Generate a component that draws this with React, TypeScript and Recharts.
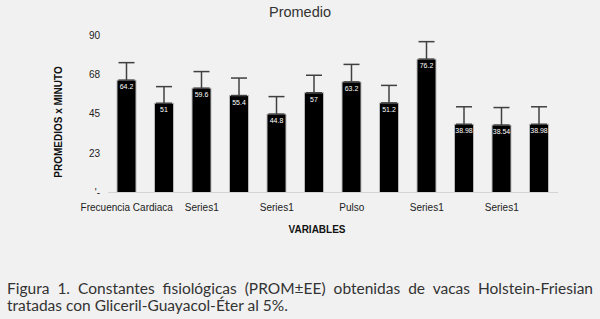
import React from 'react';
import { BarChart, Bar, XAxis, YAxis, ErrorBar, LabelList } from 'recharts';

const categories = [
  'Frecuencia Cardiaca', 'Series1', 'Series1', 'Series1', 'Series1', 'Series1',
  'Pulso', 'Series1', 'Series1', 'Series1', 'Series1', 'Series1',
];
const means = [64.2, 51, 59.6, 55.4, 44.8, 57, 63.2, 51.2, 76.2, 38.98, 38.54, 38.98];
const errors = [10, 9.5, 9.5, 10, 10, 10, 10, 10, 10, 10, 10, 10];
const yTicks = [0, 22.5, 45, 67.5, 90];

const data = categories.map((name, i) => ({
  name,
  value: means[i],
  err: [0, errors[i]],
}));

const AXIS_FONT = '"Liberation Sans", Arial, sans-serif';

const YTick = (props: any) => {
  const { x, y, payload } = props;
  const label = payload.value === 0 ? "'-" : String(Math.round(payload.value));
  return (
    <text x={x} y={y} dy={3.5} textAnchor="end" fontSize={10} fill="#222" fontFamily={AXIS_FONT}>
      {label}
    </text>
  );
};

const XTick = (props: any) => {
  const { x, y, payload } = props;
  return (
    <text x={x} y={y} dy={10} textAnchor="middle" fontSize={10} fill="#222" fontFamily={AXIS_FONT}>
      {payload.value}
    </text>
  );
};

const App: React.FC = () => {
  return (
    <div
      style={{
        position: 'absolute',
        left: 0,
        top: 0,
        width: 600,
        height: 319,
        overflow: 'hidden',
        background: '#f1f1f1',
      }}
    >
      <div
        style={{
          position: 'absolute',
          top: 4,
          left: 0,
          width: 600,
          textAlign: 'center',
          fontFamily: AXIS_FONT,
          fontSize: 14.5,
          color: '#333',
        }}
      >
        Promedio
      </div>

      <div style={{ position: 'absolute', top: 0, left: 0 }}>
        <BarChart
          width={600}
          height={240}
          data={data}
          margin={{ top: 35, right: 42, bottom: 17.5, left: 68 }}
        >
          <XAxis
            dataKey="name"
            interval={1}
            tickLine={false}
            axisLine={{ stroke: '#d4d4d4' }}
            tick={<XTick />}
            height={30}
          />
          <YAxis
            domain={[0, 90]}
            ticks={yTicks}
            axisLine={false}
            tickLine={false}
            tick={<YTick />}
            width={40}
          />
          <Bar
            dataKey="value"
            fill="#000"
            stroke="#b8b8b8"
            strokeWidth={1}
            barSize={19}
            isAnimationActive={false}
          >
            <ErrorBar dataKey="err" direction="y" width={8} stroke="#404040" strokeWidth={1.5} />
            <LabelList
              dataKey="value"
              position="insideTop"
              offset={4}
              fill="#fff"
              fontSize={7}
              fontFamily={AXIS_FONT}
            />
          </Bar>
        </BarChart>
      </div>

      <div
        style={{
          position: 'absolute',
          left: 58,
          top: 122,
          transform: 'translate(-50%, -50%) rotate(-90deg)',
          whiteSpace: 'nowrap',
          fontFamily: AXIS_FONT,
          fontWeight: 'bold',
          fontSize: 10,
          color: '#111',
        }}
      >
        PROMEDIOS x MINUTO
      </div>

      <div
        style={{
          position: 'absolute',
          left: 317,
          top: 229,
          transform: 'translate(-50%, -50%)',
          whiteSpace: 'nowrap',
          fontFamily: AXIS_FONT,
          fontWeight: 'bold',
          fontSize: 10,
          color: '#111',
        }}
      >
        VARIABLES
      </div>

      <div
        style={{
          position: 'absolute',
          left: 7,
          top: 280,
          width: 586,
          fontFamily: 'Lato, "Open Sans", sans-serif',
          fontSize: 15.5,
          lineHeight: '17px',
          color: '#333',
        }}
      >
        <div style={{ textAlign: 'justify', textAlignLast: 'justify' }}>
          Figura 1. Constantes fisiológicas (PROM±EE) obtenidas de vacas Holstein-Friesian
        </div>
        <div>tratadas con Gliceril-Guayacol-Éter al 5%.</div>
      </div>
    </div>
  );
};

export default App;
